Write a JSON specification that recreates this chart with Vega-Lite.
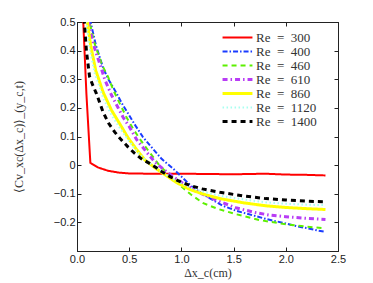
{
  "$schema": "https://vega.github.io/schema/vega-lite/v6.json",
  "width": 261,
  "height": 229,
  "autosize": {"type": "none"},
  "padding": {"left": 77, "top": 22, "right": 35, "bottom": 32},
  "background": "white",
  "config": {
    "view": {"stroke": "#222", "strokeWidth": 1},
    "axis": {
      "domainColor": "#222",
      "tickColor": "#222",
      "tickSize": -4,
      "grid": false,
      "labelFont": "Liberation Sans",
      "labelFontSize": 11,
      "labelColor": "#222",
      "titleFont": "Liberation Serif",
      "titleFontSize": 12,
      "titleFontWeight": "normal",
      "titleColor": "#333"
    },
    "legend": {
      "labelFont": "Liberation Serif",
      "labelFontSize": 13,
      "labelColor": "#333"
    }
  },
  "data": {
    "values": [
      {"Re": "Re = 300", "dx": 0.05, "c": 0.6},
      {"Re": "Re = 300", "dx": 0.06, "c": 0.5},
      {"Re": "Re = 300", "dx": 0.09, "c": 0.25},
      {"Re": "Re = 300", "dx": 0.128, "c": 0.008},
      {"Re": "Re = 300", "dx": 0.2, "c": -0.008},
      {"Re": "Re = 300", "dx": 0.3, "c": -0.02},
      {"Re": "Re = 300", "dx": 0.4, "c": -0.026},
      {"Re": "Re = 300", "dx": 0.5, "c": -0.029},
      {"Re": "Re = 300", "dx": 0.7, "c": -0.03},
      {"Re": "Re = 300", "dx": 1.0, "c": -0.03},
      {"Re": "Re = 300", "dx": 1.25, "c": -0.031},
      {"Re": "Re = 300", "dx": 1.5, "c": -0.032},
      {"Re": "Re = 300", "dx": 1.8, "c": -0.03},
      {"Re": "Re = 300", "dx": 2.0, "c": -0.033},
      {"Re": "Re = 300", "dx": 2.2, "c": -0.034},
      {"Re": "Re = 300", "dx": 2.38, "c": -0.036},

      {"Re": "Re = 400", "dx": 0.05, "c": 0.95},
      {"Re": "Re = 400", "dx": 0.13, "c": 0.5},
      {"Re": "Re = 400", "dx": 0.18, "c": 0.42},
      {"Re": "Re = 400", "dx": 0.25, "c": 0.34},
      {"Re": "Re = 400", "dx": 0.3, "c": 0.3},
      {"Re": "Re = 400", "dx": 0.362, "c": 0.262},
      {"Re": "Re = 400", "dx": 0.43, "c": 0.216},
      {"Re": "Re = 400", "dx": 0.49, "c": 0.18},
      {"Re": "Re = 400", "dx": 0.56, "c": 0.138},
      {"Re": "Re = 400", "dx": 0.632, "c": 0.098},
      {"Re": "Re = 400", "dx": 0.72, "c": 0.06},
      {"Re": "Re = 400", "dx": 0.81, "c": 0.022},
      {"Re": "Re = 400", "dx": 0.92, "c": -0.012},
      {"Re": "Re = 400", "dx": 1.0, "c": -0.04},
      {"Re": "Re = 400", "dx": 1.1, "c": -0.075},
      {"Re": "Re = 400", "dx": 1.2, "c": -0.1},
      {"Re": "Re = 400", "dx": 1.39, "c": -0.141},
      {"Re": "Re = 400", "dx": 1.53, "c": -0.16},
      {"Re": "Re = 400", "dx": 1.69, "c": -0.176},
      {"Re": "Re = 400", "dx": 1.81, "c": -0.188},
      {"Re": "Re = 400", "dx": 2.0, "c": -0.204},
      {"Re": "Re = 400", "dx": 2.1, "c": -0.213},
      {"Re": "Re = 400", "dx": 2.2, "c": -0.22},
      {"Re": "Re = 400", "dx": 2.3, "c": -0.228},
      {"Re": "Re = 400", "dx": 2.38, "c": -0.233},

      {"Re": "Re = 460", "dx": 0.05, "c": 0.9},
      {"Re": "Re = 460", "dx": 0.12, "c": 0.5},
      {"Re": "Re = 460", "dx": 0.167, "c": 0.426},
      {"Re": "Re = 460", "dx": 0.24, "c": 0.35},
      {"Re": "Re = 460", "dx": 0.297, "c": 0.309},
      {"Re": "Re = 460", "dx": 0.35, "c": 0.26},
      {"Re": "Re = 460", "dx": 0.41, "c": 0.215},
      {"Re": "Re = 460", "dx": 0.47, "c": 0.17},
      {"Re": "Re = 460", "dx": 0.536, "c": 0.128},
      {"Re": "Re = 460", "dx": 0.6, "c": 0.092},
      {"Re": "Re = 460", "dx": 0.68, "c": 0.052},
      {"Re": "Re = 460", "dx": 0.79, "c": -0.001},
      {"Re": "Re = 460", "dx": 0.9, "c": -0.04},
      {"Re": "Re = 460", "dx": 1.0, "c": -0.075},
      {"Re": "Re = 460", "dx": 1.1, "c": -0.105},
      {"Re": "Re = 460", "dx": 1.21, "c": -0.133},
      {"Re": "Re = 460", "dx": 1.35, "c": -0.153},
      {"Re": "Re = 460", "dx": 1.53, "c": -0.172},
      {"Re": "Re = 460", "dx": 1.75, "c": -0.192},
      {"Re": "Re = 460", "dx": 1.97, "c": -0.205},
      {"Re": "Re = 460", "dx": 2.2, "c": -0.215},
      {"Re": "Re = 460", "dx": 2.38, "c": -0.221},

      {"Re": "Re = 610", "dx": 0.05, "c": 0.85},
      {"Re": "Re = 610", "dx": 0.11, "c": 0.5},
      {"Re": "Re = 610", "dx": 0.15, "c": 0.43},
      {"Re": "Re = 610", "dx": 0.185, "c": 0.39},
      {"Re": "Re = 610", "dx": 0.23, "c": 0.341},
      {"Re": "Re = 610", "dx": 0.265, "c": 0.3},
      {"Re": "Re = 610", "dx": 0.33, "c": 0.245},
      {"Re": "Re = 610", "dx": 0.44, "c": 0.168},
      {"Re": "Re = 610", "dx": 0.5, "c": 0.135},
      {"Re": "Re = 610", "dx": 0.57, "c": 0.09},
      {"Re": "Re = 610", "dx": 0.665, "c": 0.046},
      {"Re": "Re = 610", "dx": 0.745, "c": 0.011},
      {"Re": "Re = 610", "dx": 0.87, "c": -0.027},
      {"Re": "Re = 610", "dx": 1.0, "c": -0.06},
      {"Re": "Re = 610", "dx": 1.18, "c": -0.098},
      {"Re": "Re = 610", "dx": 1.35, "c": -0.125},
      {"Re": "Re = 610", "dx": 1.53, "c": -0.15},
      {"Re": "Re = 610", "dx": 1.7, "c": -0.165},
      {"Re": "Re = 610", "dx": 1.85, "c": -0.175},
      {"Re": "Re = 610", "dx": 2.0, "c": -0.18},
      {"Re": "Re = 610", "dx": 2.2, "c": -0.186},
      {"Re": "Re = 610", "dx": 2.38, "c": -0.19},

      {"Re": "Re = 860", "dx": 0.05, "c": 0.75},
      {"Re": "Re = 860", "dx": 0.1, "c": 0.5},
      {"Re": "Re = 860", "dx": 0.13, "c": 0.42},
      {"Re": "Re = 860", "dx": 0.18, "c": 0.33},
      {"Re": "Re = 860", "dx": 0.2, "c": 0.309},
      {"Re": "Re = 860", "dx": 0.25, "c": 0.255},
      {"Re": "Re = 860", "dx": 0.33, "c": 0.192},
      {"Re": "Re = 860", "dx": 0.4, "c": 0.15},
      {"Re": "Re = 860", "dx": 0.49, "c": 0.095},
      {"Re": "Re = 860", "dx": 0.57, "c": 0.055},
      {"Re": "Re = 860", "dx": 0.65, "c": 0.018},
      {"Re": "Re = 860", "dx": 0.76, "c": -0.013},
      {"Re": "Re = 860", "dx": 0.85, "c": -0.035},
      {"Re": "Re = 860", "dx": 0.95, "c": -0.06},
      {"Re": "Re = 860", "dx": 1.08, "c": -0.085},
      {"Re": "Re = 860", "dx": 1.2, "c": -0.1},
      {"Re": "Re = 860", "dx": 1.37, "c": -0.117},
      {"Re": "Re = 860", "dx": 1.6, "c": -0.132},
      {"Re": "Re = 860", "dx": 1.81, "c": -0.142},
      {"Re": "Re = 860", "dx": 2.0, "c": -0.148},
      {"Re": "Re = 860", "dx": 2.2, "c": -0.152},
      {"Re": "Re = 860", "dx": 2.38, "c": -0.155},

      {"Re": "Re = 1120", "dx": 0.05, "c": 0.74},
      {"Re": "Re = 1120", "dx": 0.09, "c": 0.5},
      {"Re": "Re = 1120", "dx": 0.12, "c": 0.41},
      {"Re": "Re = 1120", "dx": 0.17, "c": 0.32},
      {"Re": "Re = 1120", "dx": 0.2, "c": 0.29},
      {"Re": "Re = 1120", "dx": 0.25, "c": 0.235},
      {"Re": "Re = 1120", "dx": 0.33, "c": 0.175},
      {"Re": "Re = 1120", "dx": 0.4, "c": 0.135},
      {"Re": "Re = 1120", "dx": 0.49, "c": 0.088},
      {"Re": "Re = 1120", "dx": 0.57, "c": 0.05},
      {"Re": "Re = 1120", "dx": 0.65, "c": 0.02},
      {"Re": "Re = 1120", "dx": 0.76, "c": -0.01},
      {"Re": "Re = 1120", "dx": 0.85, "c": -0.033},
      {"Re": "Re = 1120", "dx": 0.95, "c": -0.055},
      {"Re": "Re = 1120", "dx": 1.08, "c": -0.078},
      {"Re": "Re = 1120", "dx": 1.2, "c": -0.092},
      {"Re": "Re = 1120", "dx": 1.37, "c": -0.107},
      {"Re": "Re = 1120", "dx": 1.6, "c": -0.12},
      {"Re": "Re = 1120", "dx": 1.81, "c": -0.13},
      {"Re": "Re = 1120", "dx": 2.0, "c": -0.135},
      {"Re": "Re = 1120", "dx": 2.2, "c": -0.138},
      {"Re": "Re = 1120", "dx": 2.38, "c": -0.14},

      {"Re": "Re = 1400", "dx": 0.05, "c": 0.7},
      {"Re": "Re = 1400", "dx": 0.07, "c": 0.5},
      {"Re": "Re = 1400", "dx": 0.09, "c": 0.4},
      {"Re": "Re = 1400", "dx": 0.12, "c": 0.31},
      {"Re": "Re = 1400", "dx": 0.15, "c": 0.28},
      {"Re": "Re = 1400", "dx": 0.186, "c": 0.25},
      {"Re": "Re = 1400", "dx": 0.25, "c": 0.185},
      {"Re": "Re = 1400", "dx": 0.3, "c": 0.148},
      {"Re": "Re = 1400", "dx": 0.36, "c": 0.116},
      {"Re": "Re = 1400", "dx": 0.42, "c": 0.09},
      {"Re": "Re = 1400", "dx": 0.49, "c": 0.063},
      {"Re": "Re = 1400", "dx": 0.55, "c": 0.042},
      {"Re": "Re = 1400", "dx": 0.617, "c": 0.022},
      {"Re": "Re = 1400", "dx": 0.7, "c": 0.005},
      {"Re": "Re = 1400", "dx": 0.76, "c": -0.009},
      {"Re": "Re = 1400", "dx": 0.8, "c": -0.02},
      {"Re": "Re = 1400", "dx": 0.9, "c": -0.042},
      {"Re": "Re = 1400", "dx": 1.0, "c": -0.06},
      {"Re": "Re = 1400", "dx": 1.1, "c": -0.073},
      {"Re": "Re = 1400", "dx": 1.2, "c": -0.083},
      {"Re": "Re = 1400", "dx": 1.37, "c": -0.095},
      {"Re": "Re = 1400", "dx": 1.6, "c": -0.108},
      {"Re": "Re = 1400", "dx": 1.81, "c": -0.117},
      {"Re": "Re = 1400", "dx": 2.0, "c": -0.122},
      {"Re": "Re = 1400", "dx": 2.2, "c": -0.126},
      {"Re": "Re = 1400", "dx": 2.38, "c": -0.128}
    ]
  },
  "layer": [
    {
      "mark": {"type": "line", "clip": true},
      "encoding": {
        "x": {
          "field": "dx", "type": "quantitative",
          "scale": {"domain": [0, 2.5], "nice": false, "zero": false},
          "axis": {"values": [0, 0.5, 1, 1.5, 2, 2.5], "title": "Δx_c(cm)", "titlePadding": 3, "labelPadding": 6, "labelFlush": false}
        },
        "y": {
          "field": "c", "type": "quantitative",
          "scale": {"domain": [-0.3, 0.5], "nice": false, "zero": false},
          "axis": {"values": [-0.2, -0.1, 0, 0.1, 0.2, 0.3, 0.4, 0.5], "format": ".1~f", "title": "⟨Cv_xc(Δx_c)⟩_(y_c,t)", "titlePadding": 28, "labelPadding": 6, "labelFlush": false}
        },
        "color": {
          "field": "Re", "type": "nominal",
          "scale": {
            "domain": ["Re = 300", "Re = 400", "Re = 460", "Re = 610", "Re = 860", "Re = 1120", "Re = 1400"],
            "range": ["#ff0000", "#1a3cff", "#5cf000", "#b83cf5", "#ffff00", "#a8fff0", "#000000"]
          },
          "legend": {
            "title": null,
            "orient": "none",
            "legendX": 154,
            "legendY": 9,
            "symbolType": "M-2.3,0H2.3",
            "symbolSize": 169,
            "symbolFillColor": "transparent",
            "labelOffset": 12,
            "rowPadding": -1.2,
            "labelExpr": "replace(datum.label, / = /, '\u2002=\u2002')",
            "encode": {
              "symbols": {
                "update": {
                  "strokeWidth": {"signal": "indexof(['Re = 610', 'Re = 860', 'Re = 1400'], datum.value) >= 0 ? 3 : 2"}
                }
              }
            }
          }
        },
        "strokeDash": {
          "field": "Re", "type": "nominal",
          "scale": {
            "domain": ["Re = 300", "Re = 400", "Re = 460", "Re = 610", "Re = 860", "Re = 1120", "Re = 1400"],
            "range": [[1, 0], [5, 2, 1.5, 2], [5, 4], [5, 3, 1.5, 3], [1, 0], [1.5, 2.5], [5, 4]]
          },
          "legend": null
        },
        "strokeWidth": {
          "condition": [
            {"test": "indexof(['Re = 610', 'Re = 860', 'Re = 1400'], datum.Re) >= 0", "value": 3}
          ],
          "value": 2
        }
      }
    },
    {
      "mark": {"type": "line", "opacity": 0},
      "encoding": {
        "x": {"field": "dx", "type": "quantitative", "axis": {"orient": "top", "values": [0, 0.5, 1, 1.5, 2, 2.5], "labels": false, "title": null}},
        "y": {"field": "c", "type": "quantitative", "axis": {"orient": "right", "values": [-0.2, -0.1, 0, 0.1, 0.2, 0.3, 0.4, 0.5], "labels": false, "title": null}},
        "detail": {"field": "Re"}
      }
    }
  ],
  "resolve": {"axis": {"x": "independent", "y": "independent"}}
}
